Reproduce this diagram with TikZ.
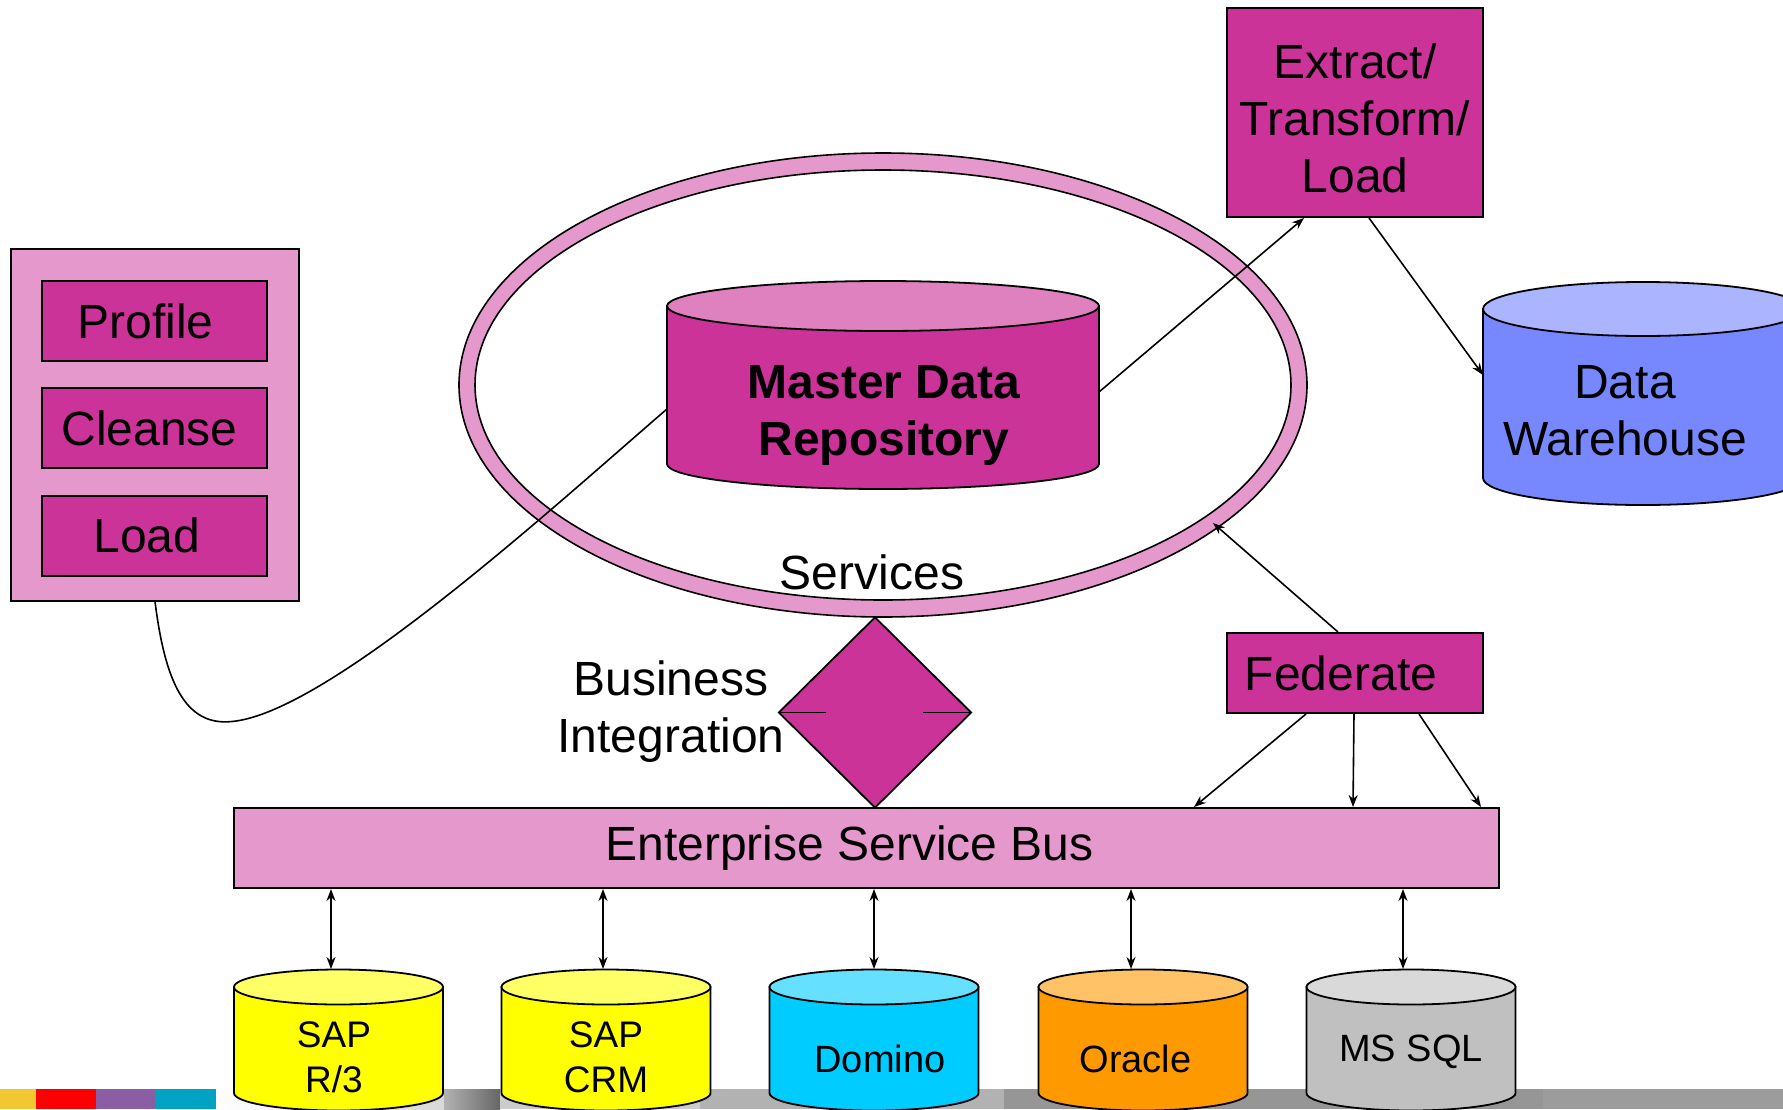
\documentclass[tikz,border=0pt]{standalone}
\usepackage{fontspec}
\setmainfont{Liberation Sans}
\usetikzlibrary{shapes.geometric,arrows.meta,calc}
\definecolor{mag}{HTML}{CC3399}
\definecolor{magtop}{HTML}{DF80BF}
\definecolor{ringpink}{HTML}{E598CB}
\definecolor{dwbody}{HTML}{7788FF}
\definecolor{dwtop}{HTML}{AAB4FF}
\definecolor{sapbody}{HTML}{FFFF00}
\definecolor{saptop}{HTML}{FFFF66}
\definecolor{dombody}{HTML}{00CCFF}
\definecolor{domtop}{HTML}{66E0FF}
\definecolor{orabody}{HTML}{FF9900}
\definecolor{oratop}{HTML}{FFC266}
\definecolor{sqlbody}{HTML}{C0C0C0}
\definecolor{sqltop}{HTML}{D9D9D9}
\newcommand\fs[2]{\fontsize{#1}{#2}\selectfont}
% cx, ytop, ybot, rx, ry, body, top
\newcommand\dbcyl[7]{%
  \filldraw[fill=#6, line width=1.8pt] ({#1-#4},#2) -- ({#1-#4},#3)
    arc[start angle=180,end angle=360,x radius=#4pt,y radius=#5pt] -- ({#1+#4},#2) -- cycle;
  \filldraw[fill=#7, line width=1.8pt] (#1,#2) ellipse[x radius=#4pt, y radius=#5pt];}
\begin{document}
\begin{tikzpicture}[x=1pt,y=-1pt,
  box/.style={draw, line width=2pt, fill=mag, inner sep=0pt},
  lbl/.style={font=\fs{48}{57}, align=center, inner sep=0pt},
  dblbl/.style={font=\fs{37}{45}, align=center, inner sep=0pt},
  arr/.style={-{Stealth[length=12pt,width=9pt]}, line width=1.6pt},
  darr/.style={{Stealth[length=12pt,width=9pt]}-{Stealth[length=12pt,width=9pt]}, line width=1.6pt},
  conn/.style={line width=1.6pt}]
\useasboundingbox (0,0) rectangle (1783,1109);
% footer bar
\fill[fill={rgb,255:red,242;green,200;blue,50}] (0,1089) rectangle (36,1109);
\fill[red] (36,1089) rectangle (96,1109);
\fill[fill={rgb,255:red,138;green,93;blue,165}] (96,1089) rectangle (155,1109);
\fill[fill={rgb,255:red,0;green,163;blue,196}] (155,1089) rectangle (216,1109);
\shade[left color=white, right color=black!15] (216,1089) rectangle (444,1109);
\shade[left color=black!30, right color=black!60] (444,1089) rectangle (500,1109);
\fill[black!20] (500,1089) rectangle (700,1109);
\fill[black!30] (700,1089) rectangle (1004,1109);
\fill[black!41] (1004,1089) rectangle (1543,1109);
\fill[black!39] (1543,1089) rectangle (1783,1109);

% left panel
\node[draw, line width=2pt, fill=ringpink, minimum width=288pt, minimum height=352pt, inner sep=0pt] (panel) at (155,424.5) {};
\node[box, lbl, minimum width=225pt, minimum height=80pt] (profile) at (154.5,321) {Profile\kern18pt};
\node[box, lbl, minimum width=225pt, minimum height=80pt] (cleanse) at (154.5,428) {Cleanse\kern10pt};
\node[box, lbl, minimum width=225pt, minimum height=80pt] (load) at (154.5,535.5) {Load\kern15pt};

% ring
\node[ellipse, draw, line width=1.6pt, fill=ringpink, minimum width=848pt, minimum height=464pt, inner sep=0pt] (ring) at (883,385) {};
\node[ellipse, draw, line width=1.6pt, fill=white, minimum width=816pt, minimum height=430pt, inner sep=0pt] (ringin) at (883,385) {};

% Master data repository
\dbcyl{883}{306}{464}{216}{25}{mag}{magtop}
\node[font=\fs{48}{57}\bfseries, align=center, inner sep=0pt] (mdr) at (884,415) {Master Data\\Repository};
\coordinate (mdrL) at (667,409);
\coordinate (mdrR) at (1099,392);

% ETL
\node[box, lbl, minimum width=256pt, minimum height=209pt] (etl) at (1355,112.5) {\rule{0pt}{47pt}Extract/\\Transform/\\Load};

% Data warehouse
\dbcyl{1643}{309}{478}{160}{27}{dwbody}{dwtop}
\node[font=\fs{48}{57}, align=center, inner sep=0pt] (dw) at (1625,411) {Data\\Warehouse};
\coordinate (dwL) at (1483,375);

% Federate
\node[box, lbl, minimum width=256pt, minimum height=80pt] (fed) at (1355,673) {Federate\kern28pt};
\coordinate (ringpt) at (1213,523);

% Services, business integration
\node[lbl] (services) at (872,572) {Services};
\node[diamond, draw, line width=1.8pt, fill=mag, minimum width=193pt, minimum height=191pt, inner sep=0pt] (bi) at (875,712.5) {};
\draw[line width=1.8pt] (bi.west) -- ++(48,0);
\draw[line width=1.8pt] (bi.east) -- ++(-49,0);
\node[lbl] (bitext) at (671,712) {Business\\Integration};

% ESB
\node[draw, line width=2pt, fill=ringpink, minimum width=1265pt, minimum height=80pt, inner sep=0pt, font=\fs{48}{57}] (esb) at (866.5,848) {Enterprise Service Bus\kern34pt};

% bottom databases
\dbcyl{338.5}{987}{1093}{104.5}{17.5}{sapbody}{saptop}
\dbcyl{606}{987}{1093}{104.5}{17.5}{sapbody}{saptop}
\dbcyl{874}{987}{1093}{104.5}{17.5}{dombody}{domtop}
\dbcyl{1143}{987}{1093}{104.5}{17.5}{orabody}{oratop}
\dbcyl{1411}{987}{1093}{104.5}{17.5}{sqlbody}{sqltop}
\node[dblbl] (sapr3) at (334,1057.5) {SAP\\R/3};
\node[dblbl] (sapcrm) at (606,1057.5) {SAP\\CRM};
\node[dblbl, font=\fs{38}{45}] (domino) at (880,1058.5) {Domino};
\node[dblbl, font=\fs{38}{45}] (oracle) at (1135.5,1058.5) {Oracle};
\node[dblbl, font=\fs{38}{45}] (mssql) at (1411,1051.5) {MS SQL};
\coordinate (t1) at (331,969);
\coordinate (t2) at (603,969);
\coordinate (t3) at (874,969);
\coordinate (t4) at (1131,969);
\coordinate (t5) at (1403,969);

% connectors
\draw[conn] (panel.south) .. controls ($(panel.south)+(10,80)$) and ($(panel.south)+(30,125)$) .. ($(panel.south)+(77,120)$)
   .. controls ($(panel.south)+(175,111)$) and ($(mdrL)+(-106,91)$) .. (mdrL);
\draw[arr] (mdrR) -- ($(etl.south west)+(78,0)$);
\draw[arr] ($(etl.south west)+(143,0)$) -- (dwL);
\draw[arr] ($(fed.north)+(-17,0)$) -- (ringpt);
\draw[arr] ($(fed.south)+(-49,0)$) -- ($(esb.north west)+(961,0)$);
\draw[arr] ($(fed.south)+(-1,0)$) -- ($(esb.north west)+(1120,0)$);
\draw[arr] ($(fed.south)+(64,0)$) -- ($(esb.north west)+(1248,0)$);
\draw[darr] (esb.south -| t1) -- (t1);
\draw[darr] (esb.south -| t2) -- (t2);
\draw[darr] (esb.south -| t3) -- (t3);
\draw[darr] (esb.south -| t4) -- (t4);
\draw[darr] (esb.south -| t5) -- (t5);
\end{tikzpicture}
\end{document}
